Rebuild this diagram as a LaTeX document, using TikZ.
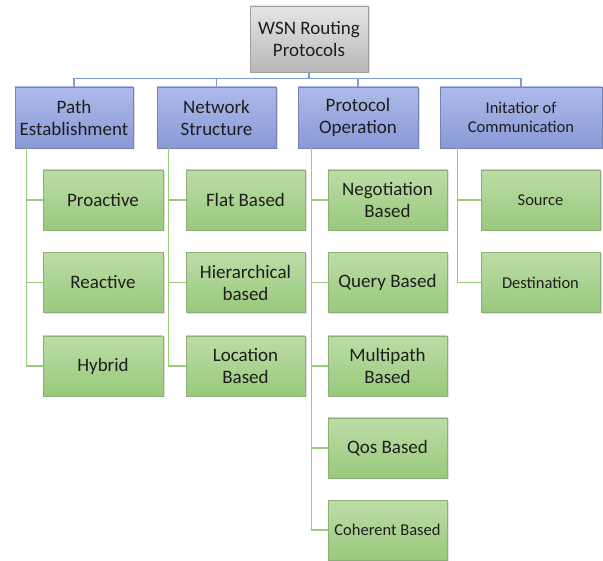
\documentclass[tikz,border=0pt]{standalone}
\usepackage{fontspec}
\setmainfont{Carlito}
\usetikzlibrary{shadows,calc}
\definecolor{txt}{HTML}{1E1E1E}
\definecolor{blueline}{HTML}{7E9CD8}
\definecolor{greenline}{HTML}{98CC7A}
\definecolor{blueborder}{HTML}{7383B8}
\definecolor{greenborder}{HTML}{8CAE78}
\tikzset{
  box/.style={draw, line width=0.8pt, inner sep=0pt, align=center, text=txt,
    font=\fontsize{19}{22}\selectfont,
    drop shadow={opacity=0.25, shadow xshift=1.5pt, shadow yshift=-1.5pt}},
  rootbox/.style={box, draw=gray!75, top color=black!10, bottom color=black!28,
    minimum width=118pt, minimum height=66pt},
  catbox/.style={box, draw=blueborder, top color={rgb,255:red,174;green,186;blue,234},
    bottom color={rgb,255:red,136;green,153;blue,214}, minimum width=118pt, minimum height=61pt},
  leafbox/.style={box, draw=greenborder, top color={rgb,255:red,188;green,221;blue,166},
    bottom color={rgb,255:red,152;green,201;blue,124}, minimum width=119pt, minimum height=60pt},
  smalltext/.style={font=\fontsize{16.5}{19}\selectfont},
  bline/.style={draw=blueline, line width=1.3pt},
  gline/.style={draw=greenline, line width=1.4pt},
}
\begin{document}
\begin{tikzpicture}[x=1pt,y=1pt]
\useasboundingbox (0,0) rectangle (603,-561);
% root and categories
\node[rootbox] (root) at (309,-39) {WSN Routing\\Protocols};
\node[catbox] (p1) at (74,-117.5) {Path\\Establishment};
\node[catbox, minimum width=119pt] (p2) at (216.5,-117.5) {Network\\Structure};
\node[catbox, minimum width=120pt] (p3) at (358,-117.5) {Protocol\\Operation};
\node[catbox, smalltext, minimum width=162pt] (p4) at (521,-117.5) {Initatior of\\Communication};
% column 1
\node[leafbox, minimum width=120pt] (a1) at (103,-200) {Proactive};
\node[leafbox, minimum width=120pt] (a2) at (103,-282.5) {Reactive};
\node[leafbox, minimum width=120pt] (a3) at (103,-366) {Hybrid};
% column 2
\node[leafbox] (b1) at (245.5,-200) {Flat Based};
\node[leafbox] (b2) at (245.5,-282.5) {Hierarchical\\based};
\node[leafbox] (b3) at (245.5,-366) {Location\\Based};
% column 3
\node[leafbox] (c1) at (387.5,-200) {Negotiation\\Based};
\node[leafbox] (c2) at (387.5,-282.5) {Query Based};
\node[leafbox] (c3) at (387.5,-366) {Multipath\\Based};
\node[leafbox] (c4) at (387.5,-448) {Qos Based};
\node[leafbox, smalltext] (c5) at (387.5,-530) {Coherent Based};
% column 4
\node[leafbox, smalltext] (d1) at (540.5,-200) {Source};
\node[leafbox, smalltext] (d2) at (540.5,-282.5) {Destination};
% top connectors
\coordinate (bus) at ($(root.south)+(0,-6)$);
\path[bline] (root.south) -- (bus);
\foreach \p in {p1,p2,p3,p4} {
  \path[bline] (bus) -| (\p.north);
}
% leaf connectors
\coordinate (s1) at ($(p1.south west)+(12,0)$);
\coordinate (s2) at ($(p2.south west)+(12,0)$);
\coordinate (s3) at ($(p3.south west)+(14,0)$);
\coordinate (s4) at ($(p4.south west)+(18,0)$);
\path[gline] (s1) |- (a3.west) (s1) |- (a2.west) (s1) |- (a1.west);
\path[gline] (s2) |- (b3.west) (s2) |- (b2.west) (s2) |- (b1.west);
\path[gline] (s3) |- (c5.west) (s3) |- (c4.west) (s3) |- (c3.west) (s3) |- (c2.west) (s3) |- (c1.west);
\path[gline] (s4) |- (d2.west) (s4) |- (d1.west);
\end{tikzpicture}
\end{document}
